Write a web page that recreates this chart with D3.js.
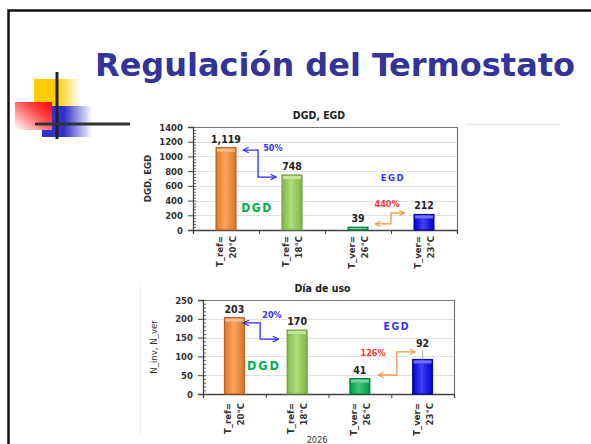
<!DOCTYPE html>
<html>
<head>
<meta charset="utf-8">
<title>Regulación del Termostato</title>
<style>
  body { margin: 0; background: #fff; }
  text { font-family: "DejaVu Sans Condensed", "DejaVu Sans", sans-serif; }
</style>
</head>
<body>
<script src="https://cdn.jsdelivr.net/npm/d3@7"></script>
<script>
var categories = [["T_ref=", "20°C"], ["T_ref=", "18°C"], ["T_ver=", "26°C"], ["T_ver=", "23°C"]];
var dgdValues = [1119, 748, 39, 212];
var dayValues = [203, 170, 41, 92];
var dgdTicks = [0, 200, 400, 600, 800, 1000, 1200, 1400];
var dayTicks = [0, 50, 100, 150, 200, 250];
var dgdPercents = ["50%", "440%"];
var dayPercents = ["20%", "126%"];
var barColors = ["#f7862c", "#92d050", "#00b050", "#0000f0"];
var barEdges = ["#b85410", "#67963a", "#00733a", "#000088"];

var width = 591, height = 444;
var svg = d3.select("body").append("svg")
  .attr("width", width).attr("height", height)
  .style("display", "block");
var defs = svg.append("defs");

function grad(id, x2, y2, stops) {
  var lg = defs.append("linearGradient").attr("id", id)
    .attr("x1", 0).attr("y1", 0).attr("x2", x2).attr("y2", y2);
  stops.forEach(function(s) {
    lg.append("stop").attr("offset", s[0]).attr("stop-color", s[1]).attr("stop-opacity", s[2] == null ? 1 : s[2]);
  });
}

// bar shading
barColors.forEach(function(c, i) {
  var hi = d3.interpolateRgb(c, "#fff")(0.25);
  var lo = d3.interpolateRgb(c, "#000")(0.12);
  grad("bar" + i, 1, 0, [[0, lo], [0.45, hi], [1, lo]]);
});

// logo gradients
grad("gYel", 1, 0, [[0, "#ffcc00"], [0.5, "#ffcc00"], [1, "#ffcc00", 0]]);
grad("gBlu", 1, 0, [[0, "#3333cc"], [0.45, "#3333cc"], [1, "#3333cc", 0]]);
defs.append("linearGradient").attr("id", "gRed")
  .attr("x1", 1).attr("y1", 0).attr("x2", 0).attr("y2", 1)
  .call(function(lg) {
    lg.append("stop").attr("offset", 0).attr("stop-color", "#ff0000");
    lg.append("stop").attr("offset", 0.35).attr("stop-color", "#ff4040");
    lg.append("stop").attr("offset", 1).attr("stop-color", "#ffffff");
  });

// arrow markers
[["mBlue", "#2b2bff"], ["mOrange", "#f79646"]].forEach(function(m) {
  defs.append("marker").attr("id", m[0])
    .attr("viewBox", "0 0 10 10").attr("refX", 9).attr("refY", 5)
    .attr("markerWidth", 7).attr("markerHeight", 7)
    .attr("markerUnits", "userSpaceOnUse")
    .attr("orient", "auto-start-reverse")
    .append("path").attr("d", "M1,1 L9,5 L1,9")
    .attr("fill", "none").attr("stroke", m[1]).attr("stroke-width", 1.6);
});

// slide frame
svg.append("path").attr("d", "M8.5," + height + " V10.5 H" + width)
  .attr("fill", "none").attr("stroke", "#111").attr("stroke-width", 2.5);

// logo
svg.append("rect").attr("x", 34).attr("y", 79).attr("width", 46).attr("height", 28).attr("fill", "url(#gYel)");
svg.append("rect").attr("x", 42).attr("y", 106).attr("width", 50).attr("height", 31).attr("fill", "url(#gBlu)");
svg.append("rect").attr("x", 15).attr("y", 102).attr("width", 37).attr("height", 28).attr("fill", "url(#gRed)");
svg.append("line").attr("x1", 57).attr("x2", 57).attr("y1", 72).attr("y2", 139)
  .attr("stroke", "#222").attr("stroke-width", 3);
svg.append("line").attr("x1", 35).attr("x2", 130).attr("y1", 124).attr("y2", 124)
  .attr("stroke", "#333").attr("stroke-width", 3);

// title
svg.append("text").attr("x", 95).attr("y", 76)
  .attr("textLength", 480).attr("lengthAdjust", "spacingAndGlyphs")
  .style("font-size", "32px").style("font-weight", "bold").attr("fill", "#333399")
  .text("Regulación del Termostato");

// faint chart image edges
svg.append("line").attr("x1", 467).attr("x2", 560).attr("y1", 124.5).attr("y2", 124.5)
  .attr("stroke", "#ececec").attr("stroke-width", 2);
svg.append("line").attr("x1", 140.5).attr("x2", 140.5).attr("y1", 283).attr("y2", 436)
  .attr("stroke", "#f2f2f2");

function drawChart(c) {
  var n = c.values.length;
  var x = d3.scaleBand().domain(d3.range(n)).range([c.left, c.right]);
  var xb = d3.scaleLinear().domain([0, n]).range([c.left, c.right]);
  var y = d3.scaleLinear().domain([0, c.max]).range([c.bottom, c.top]);
  var g = svg.append("g");
  var barW = 20;

  // gridlines
  g.selectAll("line.grid").data(c.ticks.slice(1, -1)).join("line")
    .attr("x1", c.left).attr("x2", c.right)
    .attr("y1", function(d) { return Math.round(y(d)) + 0.5; })
    .attr("y2", function(d) { return Math.round(y(d)) + 0.5; })
    .attr("stroke", "#e2e2e2");

  // frame top and right
  g.append("path")
    .attr("d", "M" + c.left + "," + (c.top + 0.5) + " H" + (c.right + 0.5) + " V" + c.bottom)
    .attr("fill", "none").attr("stroke", "#777").attr("stroke-width", 1.2);

  // minor ticks
  g.append("g").attr("transform", "translate(" + c.left + ",0)")
    .call(d3.axisRight(y).tickValues(d3.range(0, c.max + 0.1, c.minor)).tickSize(3).tickFormat(""))
    .call(function(a) {
      a.select(".domain").remove();
      a.selectAll("line").attr("stroke", "#666");
    });

  // y axis
  g.append("g").attr("transform", "translate(" + c.left + ",0)")
    .call(d3.axisLeft(y).tickValues(c.ticks).tickSize(5).tickPadding(5).tickFormat(d3.format("d")))
    .call(function(a) {
      a.select(".domain").attr("stroke", "#444").attr("stroke-width", 1.3);
      a.selectAll("line").attr("stroke", "#444");
      a.selectAll("text").attr("fill", "#333")
        .style("font-family", '"DejaVu Sans Condensed", sans-serif')
        .style("font-size", "9.5px").style("font-weight", "bold");
    });

  // x axis
  g.append("g").attr("transform", "translate(0," + c.bottom + ")")
    .call(d3.axisBottom(xb).tickValues(d3.range(n + 1)).tickSize(4).tickSizeOuter(4).tickFormat(""))
    .call(function(a) {
      a.select(".domain").attr("stroke", "#444").attr("stroke-width", 1.3);
      a.selectAll("line").attr("stroke", "#444");
    });

  // bars
  var bars = g.selectAll("g.bar").data(c.values).join("g");
  bars.append("rect")
    .attr("x", function(d, i) { return x(i) + (x.bandwidth() - barW) / 2; })
    .attr("y", function(d) { return y(d); })
    .attr("width", barW)
    .attr("height", function(d) { return c.bottom - y(d); })
    .attr("fill", function(d, i) { return "url(#bar" + i + ")"; })
    .attr("stroke", function(d, i) { return barEdges[i]; })
    .attr("stroke-width", 1);
  bars.append("rect")
    .attr("x", function(d, i) { return x(i) + (x.bandwidth() - barW) / 2 + 1; })
    .attr("y", function(d) { return y(d) + 1; })
    .attr("width", barW - 2)
    .attr("height", function(d) { return Math.min(3, Math.max(0, c.bottom - y(d) - 2)); })
    .attr("fill", function(d, i) { return d3.interpolateRgb(barColors[i], "#fff")(0.45); });

  // value labels
  g.selectAll("text.val").data(c.values).join("text")
    .attr("x", function(d, i) { return x(i) + x.bandwidth() / 2; })
    .attr("y", function(d, i) { return y(d) - 5 - c.lift[i]; })
    .attr("text-anchor", "middle").attr("fill", "#222")
    .style("font-size", "10.5px").style("font-weight", "bold")
    .text(function(d) { return d3.format(",")(d); });
  c.values.forEach(function(d, i) {
    if (c.lift[i] > 0) {
      g.append("line")
        .attr("x1", x(i) + x.bandwidth() / 2).attr("x2", x(i) + x.bandwidth() / 2)
        .attr("y1", y(d) - c.lift[i] - 2).attr("y2", y(d))
        .attr("stroke", "#aaa");
    }
  });

  // category labels
  var cl = g.selectAll("text.cat").data(categories).join("text")
    .attr("transform", function(d, i) {
      return "translate(" + (x(i) + x.bandwidth() / 2) + "," + (c.bottom + c.catGap) + ") rotate(-90)";
    })
    .attr("text-anchor", "end").attr("fill", "#333")
    .style("font-size", "9.5px").style("font-weight", "bold");
  cl.append("tspan").attr("x", 0).attr("y", -6.5).attr("dominant-baseline", "central")
    .text(function(d) { return d[0]; });
  cl.append("tspan").attr("x", 0).attr("y", 6.5).attr("dominant-baseline", "central")
    .text(function(d) { return d[1]; });

  // chart title and y label
  g.append("text").attr("x", (c.left + c.right) / 2 - 6).attr("y", c.top - 8)
    .attr("text-anchor", "middle").attr("fill", "#222")
    .style("font-size", "10.5px").style("font-weight", "bold").text(c.title);
  g.append("text")
    .attr("transform", "translate(" + c.ylabelX + "," + (c.top + c.bottom) / 2 + ") rotate(-90)")
    .attr("text-anchor", "middle").attr("fill", "#333")
    .style("font-size", "9.5px").style("font-weight", c.ylabelWeight).text(c.ylabel);

  // arrows
  function bx(b) { return xb(b); }
  c.arrows.forEach(function(a) {
    g.append("path")
      .attr("d", "M" + bx(a.x0) + "," + y(a.v0) + " H" + bx(a.xm) + " V" + y(a.v1) + " H" + bx(a.x1))
      .attr("fill", "none").attr("stroke", a.color).attr("stroke-width", 1.3)
      .attr("marker-start", "url(#" + a.marker + ")")
      .attr("marker-end", "url(#" + a.marker + ")");
  });

  // annotations
  c.notes.forEach(function(t) {
    g.append("text").attr("x", bx(t.b)).attr("y", y(t.v))
      .attr("text-anchor", "middle").attr("fill", t.color)
      .style("font-size", t.size + "px").style("font-weight", "bold")
      .style("letter-spacing", t.spacing + "px")
      .text(t.text);
  });
}

drawChart({
  title: "DGD, EGD", ylabel: "DGD, EGD", ylabelX: 151, ylabelWeight: "bold",
  values: dgdValues, ticks: dgdTicks, max: 1400, minor: 40,
  left: 193, right: 457, top: 127, bottom: 230, catGap: 6,
  lift: [0, 0, 0, 0],
  arrows: [
    { x0: 0.76, xm: 0.985, x1: 1.26, v0: 1087, v1: 720, color: "#2b2bff", marker: "mBlue" },
    { x0: 2.76, xm: 3.0, x1: 3.21, v0: 82, v1: 231, color: "#f79646", marker: "mOrange" }
  ],
  notes: [
    { text: dgdPercents[0], b: 1.21, v: 1080, color: "#3333ff", size: 9, spacing: 0 },
    { text: dgdPercents[1], b: 2.94, v: 313, color: "#ff3333", size: 9, spacing: 0 },
    { text: "DGD", b: 0.97, v: 245, color: "#00b050", size: 12, spacing: 1.5 },
    { text: "EGD", b: 3.03, v: 666, color: "#3333ff", size: 9.5, spacing: 1.5 }
  ]
});

drawChart({
  title: "Día de uso", ylabel: "N_inv, N_ver", ylabelX: 157, ylabelWeight: "normal",
  values: dayValues, ticks: dayTicks, max: 250, minor: 10,
  left: 203, right: 454, top: 300, bottom: 394, catGap: 9,
  lift: [0, 0, 0, 7],
  arrows: [
    { x0: 0.64, xm: 0.91, x1: 1.2, v0: 189, v1: 146, color: "#2b2bff", marker: "mBlue" },
    { x0: 2.79, xm: 3.09, x1: 3.38, v0: 50.5, v1: 112, color: "#f79646", marker: "mOrange" }
  ],
  notes: [
    { text: dayPercents[0], b: 1.1, v: 202, color: "#3333ff", size: 9, spacing: 0 },
    { text: dayPercents[1], b: 2.71, v: 101, color: "#ff3333", size: 9, spacing: 0 },
    { text: "DGD", b: 0.97, v: 64, color: "#00b050", size: 12.5, spacing: 2 },
    { text: "EGD", b: 3.09, v: 170, color: "#3333ff", size: 10.5, spacing: 1.5 }
  ]
});

// slide footer at the bottom edge
svg.append("text").attr("x", 317).attr("y", 443).attr("text-anchor", "middle")
  .attr("fill", "#333").style("font-size", "9px").text("2026");
</script>
</body>
</html>
